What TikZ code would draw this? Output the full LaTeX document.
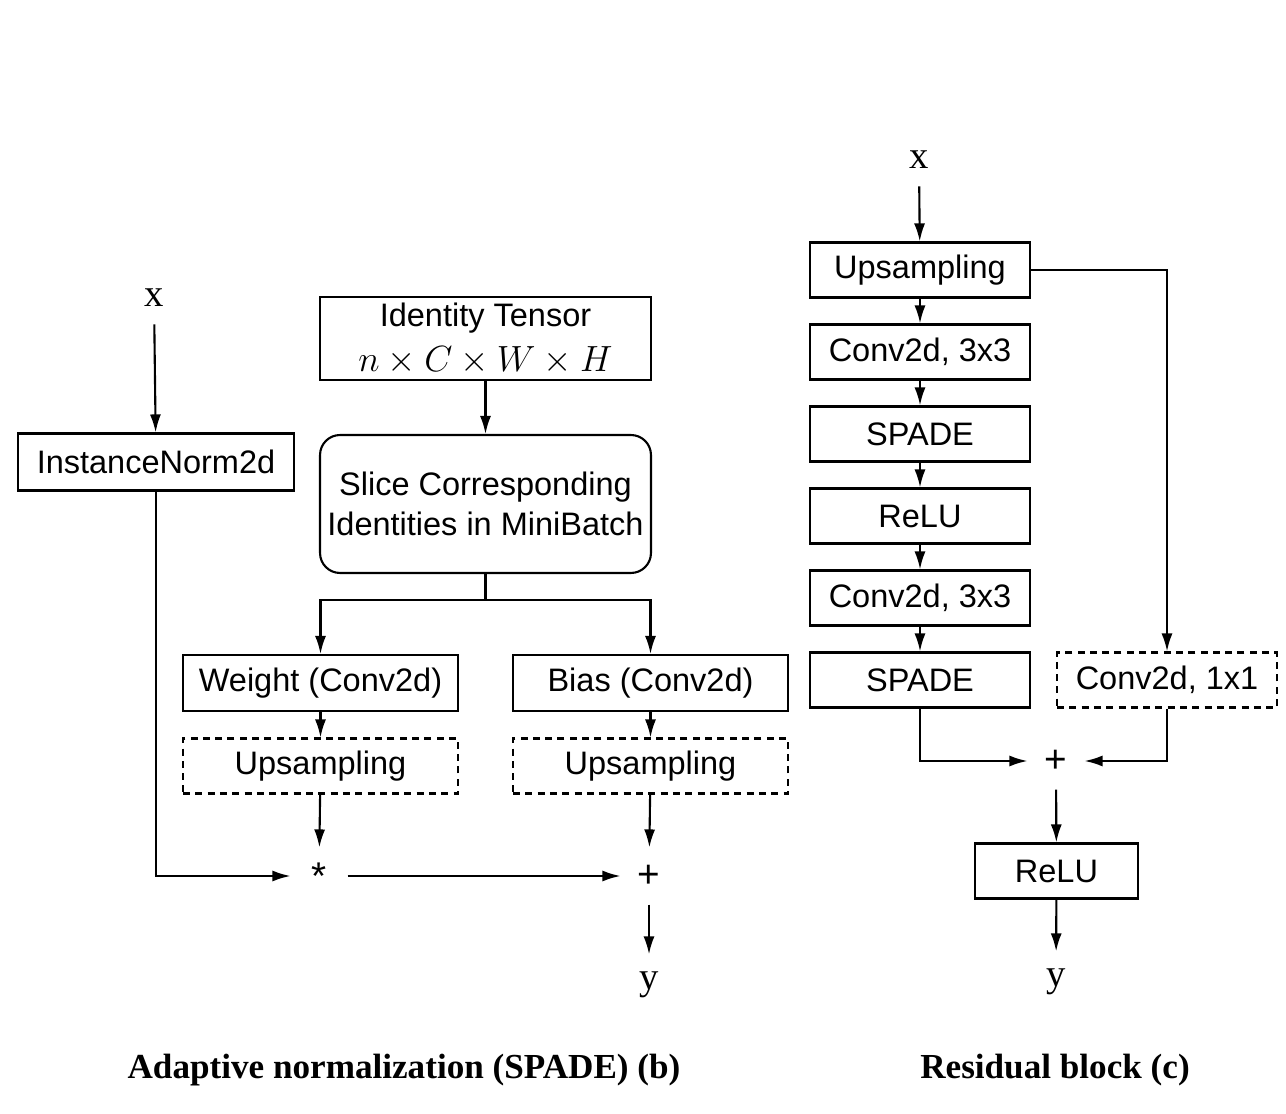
\documentclass[tikz,border=0pt]{standalone}
\usepackage{fontspec}
\setmainfont{Liberation Serif}
\newfontfamily\boxfont{Liberation Sans}
\usetikzlibrary{arrows.meta}
\tikzset{
  arr/.style={-{Latex[length=3.6mm,width=2.2mm]}},
  box/.style={draw,line width=1.2pt,inner sep=0pt,font=\boxfont\fontsize{18.5}{22.7}\selectfont,align=center},
  dashbox/.style={box,dashed,dash pattern=on 4pt off 3pt},
  roundbox/.style={box,rounded corners=0.4cm},
  op/.style={inner sep=0pt,minimum size=1.1cm,font=\boxfont\fontsize{22}{26}\selectfont},
  inout/.style={inner sep=0.33cm,font=\fontsize{22}{26}\selectfont},
  captext/.style={font=\bfseries\fontsize{20}{24}\selectfont}
}
\begin{document}
\begin{tikzpicture}[x=0.02cm,y=-0.02cm,line width=1.2pt]
\useasboundingbox (0,0) rectangle (1286,1114);

% Adaptive normalization (b)
\node[inout] (xl) at (154,298) {x};
\node[box,minimum width=5.52cm,minimum height=1.14cm] (norm) at (156,462) {InstanceNorm2d};
\node[box,minimum width=6.62cm,minimum height=1.66cm] (ident) at (485.5,338.5) {Identity Tensor\\[3pt] {\fontsize{22}{26}\selectfont$n\times C\times W\times H$}};
\node[roundbox,minimum width=6.62cm,minimum height=2.76cm] (slice) at (485.5,504) {Slice Corresponding\\Identities in MiniBatch};
\coordinate (split) at (485.5,600);
\node[box,minimum width=5.5cm,minimum height=1.12cm] (weight) at (320.5,683) {Weight (Conv2d)};
\node[box,minimum width=5.5cm,minimum height=1.12cm] (bias) at (650.5,683) {Bias (Conv2d)};
\node[dashbox,minimum width=5.5cm,minimum height=1.1cm] (upw) at (320.5,766) {Upsampling};
\node[dashbox,minimum width=5.5cm,minimum height=1.1cm] (upb) at (650.5,766) {Upsampling};
\node[op] (star) at (319,876) {*};
\node[op] (plus) at (649,876) {+};
\node[inout] (yl) at (649,985) {y};

\draw[arr] (xl) -- (norm);
\draw[arr] (ident) -- (slice);
\draw (slice) -- (split);
\draw[arr] (split) -| (weight);
\draw[arr] (split) -| (bias);
\draw[arr] (weight) -- (upw);
\draw[arr] (bias) -- (upb);
\draw[arr] (upw) -- (star);
\draw[arr] (upb) -- (plus);
\draw[arr] (norm) |- (star);
\draw[arr] (star) -- (plus);
\draw[arr] (plus) -- (yl);

% Residual block (c)
\node[inout] (xr) at (919,160) {x};
\node[box,minimum width=4.4cm,minimum height=1.1cm] (up) at (920,270) {Upsampling};
\node[box,minimum width=4.4cm,minimum height=1.1cm] (conva) at (920,352) {Conv2d, 3x3};
\node[box,minimum width=4.4cm,minimum height=1.1cm] (spadea) at (920,434) {SPADE};
\node[box,minimum width=4.4cm,minimum height=1.1cm] (relua) at (920,516) {ReLU};
\node[box,minimum width=4.4cm,minimum height=1.1cm] (convb) at (920,598) {Conv2d, 3x3};
\node[box,minimum width=4.4cm,minimum height=1.1cm] (spadeb) at (920,680) {SPADE};
\node[dashbox,minimum width=4.4cm,minimum height=1.1cm] (skip) at (1167,680) {Conv2d, 1x1};
\node[op] (plusr) at (1056,761) {+};
\node[box,minimum width=3.26cm,minimum height=1.1cm] (relub) at (1056.5,871) {ReLU};
\node[inout] (yr) at (1056,982) {y};

\draw[arr] (xr) -- (up);
\draw[arr] (up) -- (conva);
\draw[arr] (conva) -- (spadea);
\draw[arr] (spadea) -- (relua);
\draw[arr] (relua) -- (convb);
\draw[arr] (convb) -- (spadeb);
\draw[arr] (up.east) -| (skip);
\draw[arr] (spadeb) |- (plusr);
\draw[arr] (skip) |- (plusr);
\draw[arr] (plusr) -- (relub);
\draw[arr] (relub) -- (yr);

% Captions
\node[captext] (capb) at (404,1070) {Adaptive normalization (SPADE) (b)};
\node[captext] (capc) at (1055,1070) {Residual block (c)};
\end{tikzpicture}
\end{document}
